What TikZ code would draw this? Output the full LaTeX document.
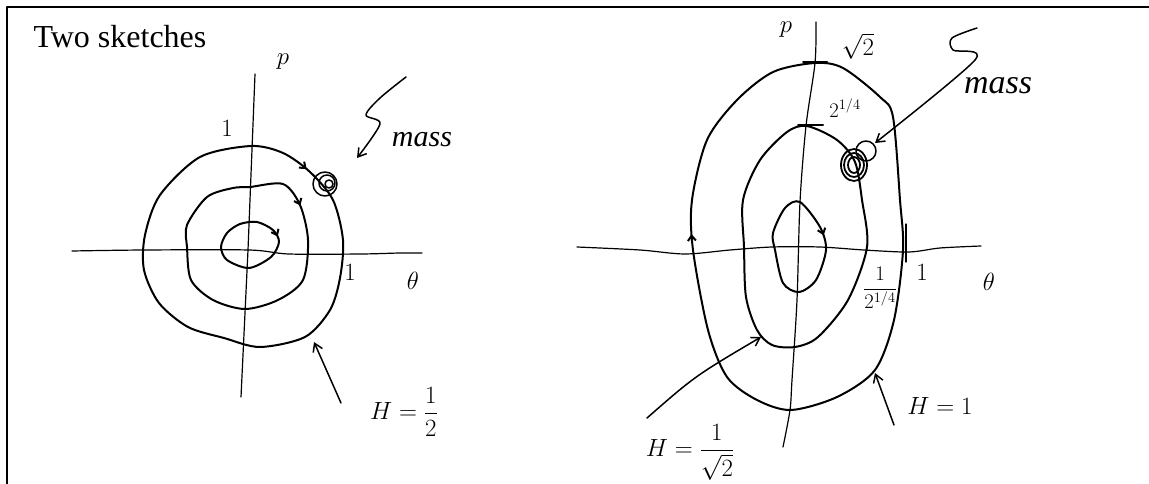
\documentclass[tikz,border=0pt]{standalone}
\usepackage{amsmath}
\usepackage{fontspec}
\setmainfont{Liberation Serif}
\usetikzlibrary{arrows.meta, decorations.markings}

\begin{document}
\begin{tikzpicture}[x=1pt, y=-1pt, line cap=round, line join=round,
  curve/.style={line width=2pt},
  axis/.style={line width=1.2pt},
  blob/.style={line width=1.5pt},
  arr/.style={-{Straight Barb[length=8pt, width=10pt]}, line width=1.5pt},
  flow/.style={postaction={decorate, decoration={markings,
    mark=at position #1 with {\arrow{Straight Barb[length=5pt, width=8pt]}}}}},
  hand/.style={font=\fontsize{30}{32}\selectfont},
  handS/.style={font=\fontsize{20}{22}\selectfont}]

  \useasboundingbox (0,0) rectangle (1149,484);
  \clip (0,0) rectangle (1149,484);

  % Frame and title
  \draw[line width=1.5pt] (7,484) -- (7,7) -- (1149,7);
  \node[anchor=base west, font=\fontsize{32}{36}\selectfont] (title) at (30,48) {Two sketches};

  % ---- Left sketch ----
  \draw[axis] plot[smooth] coordinates {(72,251) (144,250) (249,250) (289,254) (361,254) (400,253) (422,253)};
  \draw[axis] (255,74) -- (248,250) -- (241,397);
  \node[hand] (pL) at (283,62) {$p$};
  \node[hand] (thL) at (413,281) {$\theta$};
  \node[hand] (oneL) at (227,128) {$1$};
  \node[hand] (oneLx) at (350,272) {$1$};

  \draw[curve, flow=0.045] plot[smooth cycle] coordinates {(251,146) (283,153) (310,172) (333,200) (343,240)
    (340,278) (330,310) (305,337) (260,347) (224,338) (188,327) (159,303) (144,270) (145,235) (160,195) (200,157)};
  \draw[curve, flow=0.07] plot[smooth cycle] coordinates {(250,187) (283,184) (300,205) (308,240) (303,280)
    (278,300) (245,309) (213,300) (191,280) (187,247) (187,225) (207,197) (233,188)};
  \draw[curve, flow=0.05] plot[smooth cycle] coordinates {(257,222) (273,230) (279,242) (271,257) (249,268)
    (227,260) (221,247) (227,233) (240,224)};

  % mass
  \coordinate (blobL) at (325,184);
  \draw[blob] (blobL) circle[radius=12];
  \draw[blob] ([shift={(2,-1)}]blobL) circle[radius=8];
  \draw[blob] ([shift={(4,0)}]blobL) circle[radius=4];
  \node[hand] (massL) at (422,140) {\itshape mass};
  \coordinate (squigL) at (406,77);
  \coordinate (tipL) at (357,158);
  \draw[arr] plot[smooth] coordinates {(squigL) (380,98) (366,115) (380,124) (tipL)};

  \node[hand, font=\fontsize{34}{36}\selectfont] (hHalf) at (404,412) {$H=\dfrac{1}{2}$};
  \coordinate (hHalfTail) at (341,403);
  \coordinate (hHalfTip) at (314,342);
  \draw[arr] (hHalfTail) -- (hHalfTip);

  % ---- Right sketch ----
  \draw[axis] plot[smooth] coordinates {(577,247) (640,250) (685,254) (730,250) (772,247) (820,247)
    (864,250) (909,252) (940,248) (981,246)};
  \draw[axis] plot[smooth] coordinates {(816,22) (815,63) (806,126) (800,202) (797,300) (792,380) (790,410) (783,447)};
  \node[hand] (pR) at (786,30) {$p$};
  \node[hand] (thR) at (989,282) {$\theta$};
  \node[hand] (oneR) at (922,272) {$1$};
  \node[hand] (rtTwo) at (858,46) {$\sqrt{2}$};
  \node[handS] (qrTwo) at (845,108) {$2^{1/4}$};
  \node[handS] (invQr) at (880,288) {$\dfrac{1}{2^{1/4}}$};

  \draw[curve, flow=0.71] plot[smooth cycle] coordinates {(815,63) (843,68) (880,97) (893,117) (900,200)
    (903,250) (894,320) (875,370) (837,397) (791,410) (757,400) (727,377) (708,330) (693,250) (692,200)
    (707,140) (737,100) (773,72)};
  \draw[curve] plot[smooth cycle] coordinates {(807,126) (837,140) (855,162) (862,200) (867,247)
    (848,300) (818,337) (795,347) (772,345) (757,330) (746,297) (744,247) (743,200) (760,160) (787,132)};
  \draw[curve, flow=0.04] plot[smooth cycle] coordinates {(800,202) (820,227) (826,250) (816,280) (799,292)
    (783,283) (775,250) (773,233) (785,208)};

  % ticks
  \draw[curve] (803,62) -- (827,62);
  \draw[curve] (798,125) -- (823,125);
  \draw[axis] (906,224) -- (906,262);

  % mass
  \coordinate (blobR) at (854,165);
  \draw[blob, line width=1.8pt] (blobR) ellipse[x radius=13, y radius=16];
  \draw[blob, line width=1.8pt] (blobR) ellipse[x radius=10, y radius=12];
  \draw[blob, line width=1.8pt] (blobR) ellipse[x radius=6, y radius=8];
  \draw[blob] ([shift={(12,-14)}]blobR) circle[radius=10];
  \node[hand, font=\fontsize{34}{36}\selectfont] (massR) at (998,86) {\itshape mass};
  \coordinate (squigR) at (977,28);
  \coordinate (tipR) at (875,143);
  \draw[arr] plot[smooth] coordinates {(squigR) (952,38) (953,50) (975,60) (tipR)};

  \node[hand] (hOne) at (940,406) {$H=1$};
  \coordinate (hOneTail) at (894,425);
  \coordinate (hOneTip) at (875,373);
  \draw[arr] (hOneTail) -- (hOneTip);

  \node[hand, font=\fontsize{25}{27}\selectfont, inner sep=1pt] (hRoot) at (690,452) {$H=\dfrac{1}{\sqrt{2}}$};
  \coordinate (hRootTail) at (647,418);
  \coordinate (hRootTip) at (761,337);
  \draw[arr] (hRootTail) .. controls (695,376) .. (hRootTip);

\end{tikzpicture}
\end{document}
